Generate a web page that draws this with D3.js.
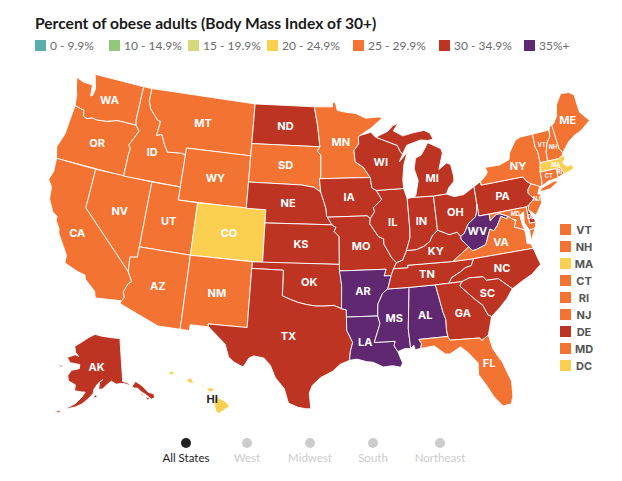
<!DOCTYPE html>
<html>
<head>
<meta charset="utf-8">
<script src="https://cdnjs.cloudflare.com/ajax/libs/d3/7.8.5/d3.min.js"></script>
<style>
  html, body { margin: 0; padding: 0; background: #fff; }
  text { font-family: Lato, "Open Sans", sans-serif; }
  .bold-label { font-family: Inter, Lato, sans-serif; }
</style>
</head>
<body>
<svg id="chart" width="622" height="481"></svg>
<script>
var binLabels = ['0 - 9.9%', '10 - 14.9%', '15 - 19.9%', '20 - 24.9%', '25 - 29.9%', '30 - 34.9%', '35%+']
var binColors = ['#5aaeae', '#93c77a', '#d3d97c', '#fbcf50', '#f37333', '#bd3423', '#5f2870']

var bin20 = ['CO', 'MA', 'HI', 'DC']
var bin25 = ['WA', 'OR', 'CA', 'NV', 'ID', 'MT', 'WY', 'UT', 'AZ', 'NM', 'SD', 'MN', 'FL', 'VA', 'NY', 'ME', 'VT', 'NH', 'CT', 'RI', 'NJ', 'MD']
var bin30 = ['ND', 'NE', 'KS', 'OK', 'TX', 'IA', 'MO', 'IL', 'WI', 'MI', 'IN', 'OH', 'KY', 'TN', 'NC', 'SC', 'GA', 'PA', 'DE', 'AK']
var bin35 = ['AR', 'LA', 'MS', 'AL', 'WV']

var sideStates = ['VT', 'NH', 'MA', 'CT', 'RI', 'NJ', 'DE', 'MD', 'DC']
var smallLabels = ['VT', 'NH', 'MA', 'CT', 'RI', 'NJ', 'DE', 'MD']
var regions = ['All States', 'West', 'Midwest', 'South', 'Northeast']

var outlines = {
  WA: [[[-124.7,48.38],[-123.9,48.17],[-123.1,48.15],[-122.75,48.15],[-122.6,47.3],[-122.4,47.4],[-122.3,47.9],[-122.5,48.4],[-122.8,49],[-117.03,49],[-117.04,46.42],[-116.92,45.99],[-118.98,46],[-119.3,45.93],[-120.2,45.73],[-121.2,45.65],[-121.8,45.7],[-122.3,45.55],[-122.75,45.65],[-122.9,46.1],[-123.3,46.15],[-123.95,46.25],[-124.05,46.7],[-124.1,47],[-124.4,47.6]]],
  OR: [[[-123.95,46.25],[-123.3,46.15],[-122.9,46.1],[-122.75,45.65],[-122.3,45.55],[-121.8,45.7],[-121.2,45.65],[-120.2,45.73],[-119.3,45.93],[-118.98,46],[-116.92,45.99],[-116.46,45.6],[-116.85,44.95],[-117.22,44.4],[-117.03,44.23],[-116.95,44.1],[-117.03,43.8],[-117.03,42],[-124.21,42],[-124.55,42.84],[-124.1,44],[-124.05,45]]],
  CA: [[[-124.21,42],[-120,42],[-120,39],[-114.63,35],[-114.14,34.3],[-114.43,34.08],[-114.72,33.4],[-114.52,33.03],[-114.72,32.72],[-117.12,32.53],[-117.3,33],[-118.4,33.75],[-118.5,34.03],[-119.2,34.15],[-120.6,34.55],[-120.65,35.15],[-121.9,36.6],[-122,36.95],[-122.5,37.5],[-122.5,37.8],[-123,38],[-123.7,38.9],[-123.85,39.8],[-124.35,40.3],[-124.1,41]]],
  NV: [[[-120,42],[-114.04,42],[-114.04,36.2],[-114.74,36.1],[-114.63,35],[-120,39]]],
  ID: [[[-117.03,49],[-116.05,49],[-116.05,48],[-115.7,47.45],[-114.7,46.7],[-114.35,46.65],[-114.5,45.55],[-113.95,45.7],[-113.45,44.95],[-113,44.45],[-111.5,44.55],[-111.05,44.48],[-111.05,42],[-117.03,42],[-117.03,43.8],[-116.95,44.1],[-117.03,44.23],[-117.22,44.4],[-116.85,44.95],[-116.46,45.6],[-116.92,45.99],[-117.04,46.42]]],
  MT: [[[-116.05,49],[-104.05,49],[-104.05,45],[-111.05,45],[-111.05,44.48],[-111.5,44.55],[-113,44.45],[-113.45,44.95],[-113.95,45.7],[-114.5,45.55],[-114.35,46.65],[-114.7,46.7],[-115.7,47.45],[-116.05,48]]],
  WY: [[[-111.05,45],[-104.05,45],[-104.05,41],[-111.05,41]]],
  UT: [[[-114.04,42],[-111.05,42],[-111.05,41],[-109.05,41],[-109.05,37],[-114.04,37]]],
  CO: [[[-109.05,41],[-102.05,41],[-102.05,37],[-109.05,37]]],
  AZ: [[[-114.04,37],[-109.05,37],[-109.05,31.33],[-111.07,31.33],[-114.81,32.5],[-114.72,32.72],[-114.52,33.03],[-114.72,33.4],[-114.43,34.08],[-114.14,34.3],[-114.63,35],[-114.74,36.1],[-114.04,36.2]]],
  NM: [[[-109.05,37],[-103,37],[-103.04,36.5],[-103.06,32],[-106.62,32],[-106.53,31.78],[-108.21,31.78],[-108.21,31.33],[-109.05,31.33]]],
  ND: [[[-104.05,49],[-97.23,49],[-96.85,47.6],[-96.56,45.93],[-104.05,45.94]]],
  SD: [[[-104.05,45.94],[-96.56,45.93],[-96.85,45.6],[-96.45,45.3],[-96.45,43.5],[-96.6,43.5],[-96.45,42.49],[-97.2,42.85],[-98.5,43],[-104.05,43]]],
  NE: [[[-104.05,43],[-98.5,43],[-97.2,42.85],[-96.45,42.49],[-96.1,41.7],[-95.9,41.2],[-95.85,40.7],[-95.31,40],[-102.05,40],[-102.05,41],[-104.05,41]]],
  KS: [[[-102.05,40],[-95.31,40],[-94.9,39.8],[-95.1,39.5],[-94.6,39.11],[-94.62,37],[-102.04,37]]],
  OK: [[[-103,37],[-94.62,37],[-94.43,35.4],[-94.48,33.64],[-95.2,33.9],[-96,33.85],[-96.9,33.85],[-97.7,33.95],[-98.5,34.1],[-99.2,34.3],[-100,34.56],[-100,36.5],[-103.04,36.5]]],
  TX: [[[-106.62,32],[-103.06,32],[-103.04,36.5],[-100,36.5],[-100,34.56],[-99.2,34.3],[-98.5,34.1],[-97.7,33.95],[-96.9,33.85],[-96,33.85],[-95.2,33.9],[-94.48,33.64],[-94.04,33.55],[-94.04,33],[-94.04,32],[-93.53,31.05],[-93.75,30.4],[-93.85,29.7],[-94.7,29.4],[-95.3,28.9],[-96.4,28.4],[-97.1,27.8],[-97.35,27.2],[-97.2,26],[-97.65,26],[-98.3,26.1],[-99.1,26.4],[-99.5,27.5],[-100.3,28.3],[-100.8,29.25],[-101.4,29.77],[-102.3,29.88],[-102.7,29.7],[-103.15,28.98],[-104,29.3],[-104.5,29.65],[-104.9,30.6],[-106,31.4],[-106.53,31.78]]],
  MN: [[[-97.23,49],[-95.15,49],[-95.15,49.38],[-94.8,49.3],[-94.6,48.72],[-93.5,48.55],[-92.5,48.45],[-91.4,48.05],[-90,48.1],[-89.5,48],[-90.8,47.3],[-92.1,46.75],[-92.3,46.66],[-92.3,46.1],[-92.85,45.6],[-92.75,44.75],[-91.9,44.3],[-91.22,43.5],[-96.45,43.5],[-96.45,45.3],[-96.85,45.6],[-96.56,45.93],[-96.85,47.6]]],
  IA: [[[-96.6,43.5],[-91.22,43.5],[-91.1,42.7],[-90.65,42.5],[-90.15,41.8],[-91.05,41.2],[-90.95,40.9],[-91.42,40.38],[-91.73,40.61],[-95.77,40.58],[-95.85,40.7],[-95.9,41.2],[-96.1,41.7],[-96.45,42.49]]],
  MO: [[[-95.77,40.58],[-91.73,40.61],[-91.42,40.38],[-91.5,40],[-90.7,39],[-90.2,38.8],[-90.2,38.4],[-89.5,37.3],[-89.1,36.95],[-89.42,36.5],[-89.7,36],[-90.37,36],[-90.15,36.5],[-94.62,36.5],[-94.62,37],[-94.6,39.11],[-95.1,39.5],[-94.9,39.8],[-95.31,40]]],
  AR: [[[-94.62,36.5],[-90.15,36.5],[-90.37,36],[-89.7,36],[-90.1,35],[-90.6,34.7],[-91.1,33.9],[-91.17,33],[-94.04,33],[-94.04,33.55],[-94.48,33.64],[-94.43,35.4]]],
  LA: [[[-94.04,33],[-91.17,33],[-91,32.4],[-91.6,31],[-89.73,31],[-89.85,30.65],[-89.55,30.2],[-89.4,29.8],[-89.2,29.3],[-89.4,29],[-90.1,29.15],[-90.9,29.1],[-91.8,29.5],[-92.3,29.55],[-93.2,29.78],[-93.85,29.7],[-93.75,30.4],[-93.53,31.05],[-94.04,32]]],
  MS: [[[-90.1,35],[-88.2,35],[-88.1,34.9],[-88.47,31.9],[-88.4,30.35],[-88.9,30.4],[-89.55,30.2],[-89.85,30.65],[-89.73,31],[-91.6,31],[-91,32.4],[-91.17,33],[-91.1,33.9],[-90.6,34.7]]],
  AL: [[[-88.2,35],[-85.6,35],[-85.18,32.87],[-85,32.3],[-85.05,31.55],[-85,31],[-87.6,31],[-87.4,30.65],[-87.52,30.3],[-88,30.25],[-88.1,30.6],[-88.4,30.35],[-88.47,31.9],[-88.1,34.9]]],
  TN: [[[-89.7,36],[-89.42,36.5],[-88.05,36.5],[-88.07,36.68],[-83.68,36.6],[-81.68,36.59],[-82,36.1],[-82.6,36],[-83.1,35.75],[-84,35.4],[-84.32,35],[-85.6,35],[-88.2,35],[-90.1,35]]],
  KY: [[[-89.42,36.5],[-89.1,36.95],[-88.5,37.1],[-88.05,37.8],[-87.1,37.8],[-86.3,38],[-85.7,38.3],[-85.4,38.7],[-84.8,39.1],[-84.3,38.9],[-83.7,38.65],[-82.9,38.75],[-82.6,38.4],[-82.6,38.17],[-81.97,37.54],[-83.68,36.6],[-88.07,36.68],[-88.05,36.5]]],
  IL: [[[-90.65,42.5],[-87.8,42.5],[-87.52,41.7],[-87.53,39.35],[-87.6,38.7],[-88.05,37.8],[-88.5,37.1],[-89.1,36.95],[-89.5,37.3],[-90.2,38.4],[-90.2,38.8],[-90.7,39],[-91.5,40],[-91.42,40.38],[-90.95,40.9],[-91.05,41.2],[-90.15,41.8]]],
  IN: [[[-87.52,41.7],[-87.2,41.75],[-86.8,41.76],[-84.8,41.7],[-84.8,39.1],[-85.4,38.7],[-85.7,38.3],[-86.3,38],[-87.1,37.8],[-88.05,37.8],[-87.6,38.7],[-87.53,39.35]]],
  OH: [[[-84.8,41.7],[-83.45,41.73],[-82.7,41.45],[-81.7,41.5],[-80.52,41.98],[-80.52,40.64],[-80.7,40],[-80.85,39.7],[-81.7,39.25],[-82.2,38.6],[-82.6,38.4],[-82.9,38.75],[-83.7,38.65],[-84.3,38.9],[-84.8,39.1]]],
  MI: [[[-86.8,41.76],[-84.8,41.7],[-83.45,41.73],[-83.1,42.2],[-82.5,42.6],[-82.45,43],[-82.6,43.9],[-83,44.07],[-83.9,43.65],[-83.3,44.85],[-83.4,45.2],[-84.75,45.78],[-85.1,45.4],[-85.6,44.9],[-86.25,44.7],[-86.5,43.9],[-86.2,43],[-86.6,41.9]],
       [[-90.4,46.55],[-89,46.95],[-88.4,47.35],[-87.8,47.47],[-88.4,46.95],[-87.4,46.5],[-86.1,46.67],[-85,46.75],[-84.4,46.5],[-84.1,46],[-84.7,45.95],[-85.5,46.05],[-86.3,45.9],[-87.05,45.75],[-87.6,45.1],[-87.85,45.35],[-88.1,45.8],[-89.1,46.13]]],
  WI: [[[-92.1,46.75],[-90.9,46.95],[-90.4,46.55],[-89.1,46.13],[-88.1,45.8],[-87.85,45.35],[-87.6,45.1],[-88,44.55],[-87.05,45.25],[-87.55,44.3],[-87.8,43.2],[-87.8,42.5],[-90.65,42.5],[-91.1,42.7],[-91.22,43.5],[-91.9,44.3],[-92.75,44.75],[-92.85,45.6],[-92.3,46.1],[-92.3,46.66]]],
  PA: [[[-80.52,41.98],[-79.76,42.27],[-79.76,42],[-75.35,42],[-75.07,41.6],[-74.7,41.36],[-75.13,40.97],[-75.2,40.7],[-74.75,40.2],[-75.4,39.8],[-75.7,39.72],[-80.52,39.72],[-80.52,40.64]]],
  NY: [[[-79.76,42.27],[-79.05,42.7],[-78.9,42.9],[-79.05,43.27],[-77.5,43.25],[-76.4,43.5],[-76.2,44],[-75.3,44.85],[-74.7,45],[-73.35,45],[-73.4,44],[-73.25,43.6],[-73.27,42.75],[-73.5,42.05],[-73.55,41.3],[-73.65,41],[-73.9,41],[-74.7,41.36],[-75.07,41.6],[-75.35,42],[-79.76,42]],
       [[-74,40.6],[-73.75,40.85],[-72.3,41.15],[-71.9,41.05],[-72.9,40.65]]],
  VT: [[[-73.35,45],[-71.5,45],[-71.6,44.5],[-72.05,44.1],[-72.4,43.4],[-72.46,42.73],[-73.27,42.75],[-73.25,43.6],[-73.4,44]]],
  NH: [[[-71.5,45],[-71.3,45.3],[-71.08,45.3],[-70.98,43.4],[-70.7,43.07],[-70.82,42.87],[-71.3,42.7],[-72.46,42.73],[-72.4,43.4],[-72.05,44.1],[-71.6,44.5]]],
  ME: [[[-71.08,45.3],[-70.8,45.4],[-70.3,45.9],[-70,46.7],[-69.2,47.45],[-68.3,47.35],[-67.8,47.07],[-67.8,45.7],[-67.45,45.3],[-67,44.85],[-68.2,44.3],[-69,44.1],[-69.8,43.75],[-70.7,43.07],[-70.98,43.4]]],
  MA: [[[-73.5,42.05],[-73.27,42.75],[-72.46,42.73],[-71.3,42.7],[-70.82,42.87],[-70.6,42.65],[-71,42.3],[-70.6,41.95],[-70.2,42.05],[-70,41.7],[-70.65,41.55],[-71.12,41.5],[-71.2,41.67],[-71.38,42.02],[-71.8,42.02]]],
  RI: [[[-71.8,42.02],[-71.38,42.02],[-71.2,41.67],[-71.12,41.5],[-71.45,41.45],[-71.86,41.32]]],
  CT: [[[-73.5,42.05],[-71.8,42.02],[-71.86,41.32],[-72.9,41.25],[-73.65,41],[-73.55,41.3]]],
  NJ: [[[-74.7,41.36],[-73.9,41],[-74.25,40.5],[-74,40.4],[-74.1,39.75],[-74.9,38.95],[-75.55,39.5],[-75.4,39.8],[-74.75,40.2],[-75.2,40.7],[-75.13,40.97]]],
  DE: [[[-75.7,39.72],[-75.4,39.8],[-75.55,39.5],[-75.05,38.45],[-75.7,38.46]]],
  MD: [[[-79.48,39.72],[-75.7,39.72],[-75.7,38.46],[-75.05,38.45],[-75.25,38.03],[-75.85,37.95],[-76.2,38.6],[-76.05,39.4],[-76.5,39.2],[-76.4,38.4],[-76.3,38.05],[-76.95,38.3],[-77.25,38.4],[-77.04,38.79],[-77.12,38.93],[-77.7,39.32],[-78.4,39.6],[-78.8,39.6],[-79.48,39.2]]],
  DC: [[[-77.12,38.93],[-77.04,39],[-76.91,38.89],[-77.04,38.79]]],
  WV: [[[-80.52,40.64],[-80.52,39.72],[-79.48,39.72],[-79.48,39.2],[-78.8,39.6],[-78.4,39.6],[-77.7,39.32],[-77.83,39.13],[-78.35,39.4],[-78.87,38.76],[-79.3,38.42],[-79.65,38.6],[-80.3,37.5],[-81.25,37.25],[-81.68,37.2],[-81.97,37.54],[-82.6,38.17],[-82.6,38.4],[-82.2,38.6],[-81.7,39.25],[-80.85,39.7],[-80.7,40]]],
  VA: [[[-83.68,36.6],[-81.97,37.54],[-81.68,37.2],[-81.25,37.25],[-80.3,37.5],[-79.65,38.6],[-79.3,38.42],[-78.87,38.76],[-78.35,39.4],[-77.83,39.13],[-77.7,39.32],[-77.12,38.93],[-77.04,38.79],[-77.25,38.4],[-76.95,38.3],[-76.3,38.05],[-76.3,37.6],[-76.35,37],[-76,36.93],[-75.87,36.55],[-81.68,36.59]],
       [[-75.85,37.95],[-75.25,38.03],[-75.9,37.15]]],
  NC: [[[-84.32,35],[-84,35.4],[-83.1,35.75],[-82.6,36],[-82,36.1],[-81.68,36.59],[-75.87,36.55],[-75.5,35.25],[-76.5,34.65],[-77.5,34.3],[-78.55,33.86],[-79.67,34.8],[-80.8,34.82],[-81.05,35.13],[-82.35,35.2],[-83.1,35]]],
  SC: [[[-83.1,35],[-82.35,35.2],[-81.05,35.13],[-80.8,34.82],[-79.67,34.8],[-78.55,33.86],[-79.2,33.2],[-80,32.6],[-80.85,32.05],[-81.15,32.2],[-81.5,33],[-82.2,33.6],[-83.35,34.7]]],
  GA: [[[-85.6,35],[-84.32,35],[-83.1,35],[-83.35,34.7],[-82.2,33.6],[-81.5,33],[-81.15,32.2],[-80.85,32.05],[-81.4,30.7],[-82.05,30.35],[-82.2,30.57],[-84.86,30.7],[-85,31],[-85.05,31.55],[-85,32.3],[-85.18,32.87]]],
  FL: [[[-87.6,31],[-85,31],[-84.86,30.7],[-82.2,30.57],[-82.05,30.35],[-81.4,30.7],[-81.2,29.6],[-80.55,28.45],[-80.05,26.9],[-80.15,25.75],[-80.4,25.2],[-81.1,25.15],[-81.75,26],[-82.2,26.9],[-82.75,27.8],[-82.65,28.7],[-83.4,29.6],[-84,30.1],[-85,29.65],[-85.4,29.7],[-86.3,30.4],[-87.52,30.3],[-87.4,30.65]]],
  AK: [[[-137.5,69.65],[-141,60.3],[-139.5,60],[-137.5,58.9],[-136,59.5],[-135.5,59.7],[-133.4,58.4],[-131.8,56.6],[-130,55.9],[-130.2,55],[-131.6,55],[-133.2,56.4],[-134.5,57.2],[-135.5,58.2],[-136.5,58.3],[-138,59],[-140,59.7],[-142,60],[-144,60],[-146,60.8],[-148.5,60],[-150,59.3],[-151.8,59.2],[-151.3,60.8],[-149.8,61.3],[-152,60.5],[-153.8,59.3],[-154.2,58.3],[-156.5,57],[-158.5,56],[-161,55.2],[-163.5,54.7],[-164.8,54.6],[-163,55.2],[-161,56],[-158.7,57.5],[-157.5,58.6],[-159,58.6],[-162,58.7],[-162,60],[-165.2,60.6],[-166,61.7],[-164.7,63],[-161,63.6],[-161,64.5],[-166,64.6],[-168,65.6],[-164,66.5],[-162,66.2],[-164,67],[-165,68.3],[-161,69.5],[-157,70.6],[-153,71.3],[-148.5,70.8],[-142.5,70.2]],
       [[-154.5,57.4],[-152.4,57.5],[-153,58.1]],
       [[-168.5,53.4],[-166.2,53.5],[-166.6,54]],
       [[-171.7,63.4],[-168.8,63.2],[-170,63.7]],
       [[-134.8,57.3],[-133.9,56.2],[-134.7,56.4]],
       [[-133.6,55.9],[-132,55.3],[-133,55]]],
  HI: [[[-155.9,20.25],[-155.1,19.85],[-154.8,19.5],[-155.65,18.95],[-155.9,19.1],[-156.05,19.75]],
       [[-156.7,20.9],[-156.25,20.95],[-156,20.75],[-156.4,20.58]],
       [[-157.3,21.2],[-156.75,21.18],[-156.9,21.05]],
       [[-158.28,21.57],[-157.95,21.7],[-157.65,21.3],[-158.1,21.3]],
       [[-159.75,22.1],[-159.4,22.23],[-159.3,22],[-159.6,21.88]]]
}

// label anchors where the centroid lands badly
var labelAnchors = {
  FL: [-81.7, 28.6], MI: [-84.7, 43.1], LA: [-92.4, 31.05], HI: [-156.2, 20.1], VA: [-78.8, 37.5],
  NY: [-75.6, 42.9], AK: [-152.5, 64.2], KY: [-85.2, 37.55], WV: [-80.9, 38.6], MD: [-76.9, 39.35],
  NJ: [-74.5, 40.1], DE: [-75.45, 38.9], TX: [-99.3, 31.55], CA: [-120.2, 37], ID: [-114.6, 44.2]
}

function binOf(code) {
  if (bin20.indexOf(code) >= 0) return 3
  if (bin25.indexOf(code) >= 0) return 4
  if (bin30.indexOf(code) >= 0) return 5
  return 6
}

var svg = d3.select('#chart')
var color = d3.scaleOrdinal().domain(d3.range(binLabels.length)).range(binColors)

var projection = d3.geoAlbersUsa().scale(750).translate([319, 242])
var path = d3.geoPath(projection)

// spherical winding depends on direction, flip any ring that came out inside-out
function toFeature(code) {
  var rings = outlines[code].map(function(ring) {
    var closed = ring.concat([ring[0]])
    if (d3.geoArea({type: 'Polygon', coordinates: [closed]}) > Math.PI * 2) closed.reverse()
    return [closed]
  })
  return {type: 'Feature', id: code, geometry: {type: 'MultiPolygon', coordinates: rings}}
}

var features = Object.keys(outlines).map(toFeature)

svg.append('g').selectAll('path')
  .data(features)
  .enter().append('path')
  .attr('d', path)
  .attr('fill', function(d) { return color(binOf(d.id)) })
  .attr('stroke', '#fff')
  .attr('stroke-width', 0.9)
  .attr('stroke-linejoin', 'round')

function labelPos(d) {
  if (labelAnchors[d.id]) return projection(labelAnchors[d.id]) || path.centroid(d)
  return path.centroid(d)
}

svg.append('g').selectAll('text')
  .data(features.filter(function(d) { return d.id !== 'DC' }))
  .enter().append('text')
  .attr('class', 'bold-label')
  .attr('x', function(d) { return labelPos(d)[0] })
  .attr('y', function(d) { return labelPos(d)[1] })
  .attr('dy', '0.36em')
  .attr('text-anchor', 'middle')
  .attr('font-weight', 700)
  .attr('font-size', function(d) { return smallLabels.indexOf(d.id) >= 0 ? 5.5 : 11 })
  .attr('fill', function(d) { return d.id === 'HI' ? '#222' : '#fff' })
  .text(function(d) { return d.id })

// title and legend
svg.append('text')
  .attr('x', 35).attr('y', 29)
  .attr('font-size', 15.6).attr('font-weight', 700).attr('fill', '#1a1a1a')
  .text('Percent of obese adults (Body Mass Index of 30+)')

var legendX = [35, 109, 188, 267, 353, 439, 524]
var legend = svg.append('g').selectAll('g')
  .data(binLabels)
  .enter().append('g')
  .attr('transform', function(d, i) { return 'translate(' + legendX[i] + ',40)' })
legend.append('rect')
  .attr('width', 11).attr('height', 11)
  .attr('fill', function(d, i) { return binColors[i] })
legend.append('text')
  .attr('x', 15).attr('y', 10)
  .attr('font-size', 12).attr('fill', '#6b6b6b')
  .text(function(d) { return d })

// small states list on the right
var side = d3.scaleBand().domain(sideStates).range([222, 375]).paddingInner(0)
var sideRow = svg.append('g').selectAll('g')
  .data(sideStates)
  .enter().append('g')
  .attr('transform', function(d) { return 'translate(560,' + side(d) + ')' })
sideRow.append('rect')
  .attr('y', 2).attr('width', 11).attr('height', 11)
  .attr('fill', function(d) { return color(binOf(d)) })
sideRow.append('text')
  .attr('class', 'bold-label')
  .attr('x', 24).attr('y', 12)
  .attr('text-anchor', 'middle')
  .attr('font-size', 11).attr('font-weight', 700).attr('fill', '#555')
  .text(function(d) { return d })

// region switch at the bottom
var regionX = [186, 247, 310, 373, 440]
var region = svg.append('g').selectAll('g')
  .data(regions)
  .enter().append('g')
  .attr('transform', function(d, i) { return 'translate(' + regionX[i] + ',0)' })
region.append('circle')
  .attr('cy', 443).attr('r', 5)
  .attr('fill', function(d, i) { return i === 0 ? '#222' : '#ccc' })
region.append('text')
  .attr('y', 462)
  .attr('text-anchor', 'middle')
  .attr('font-size', 11.5)
  .attr('fill', function(d, i) { return i === 0 ? '#222' : '#ccc' })
  .text(function(d) { return d })
</script>
</body>
</html>
